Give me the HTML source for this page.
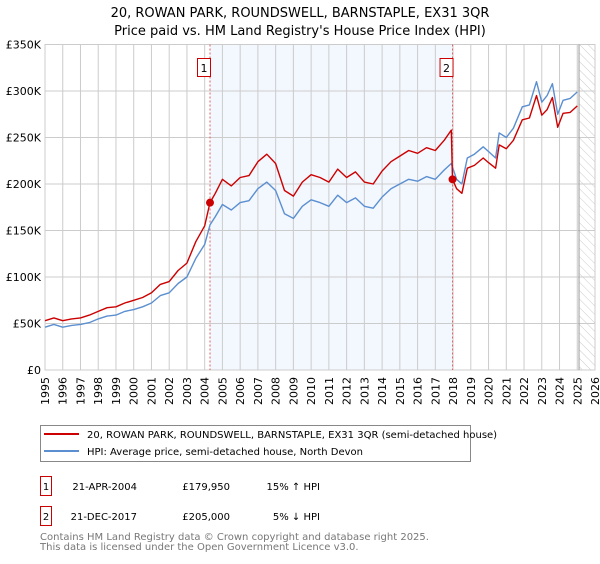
<!DOCTYPE html>
<html><head><meta charset="utf-8"><style>
body{margin:0;background:#fff;font-family:"DejaVu Sans","Liberation Sans",sans-serif;}
svg text{font-family:"DejaVu Sans","Liberation Sans",sans-serif;}
</style></head><body>
<svg id="chart" width="600" height="560" xmlns="http://www.w3.org/2000/svg">
<defs><pattern id="hatch" width="6" height="6" patternUnits="userSpaceOnUse" patternTransform="rotate(-45)"><line x1="0" y1="0" x2="0" y2="6" stroke="#ccc" stroke-width="1"/></pattern></defs>
<text x="300" y="17" text-anchor="middle" font-size="13" fill="#000">20, ROWAN PARK, ROUNDSWELL, BARNSTAPLE, EX31 3QR</text>
<text x="300" y="35" text-anchor="middle" font-size="13" fill="#000">Price paid vs. HM Land Registry's House Price Index (HPI)</text>
<g id="plot"></g>
<g>
<rect x="40.5" y="425.5" width="430" height="36" fill="#fff" stroke="#888"/>
<line x1="44" y1="434" x2="79" y2="434" stroke="#cc0000" stroke-width="2"/>
<text x="87" y="438" font-size="10">20, ROWAN PARK, ROUNDSWELL, BARNSTAPLE, EX31 3QR (semi-detached house)</text>
<line x1="44" y1="451" x2="79" y2="451" stroke="#5b8fd0" stroke-width="2"/>
<text x="87" y="455" font-size="10">HPI: Average price, semi-detached house, North Devon</text>
</g>
<g font-size="10">
<rect x="40.5" y="476.5" width="11" height="19" fill="#fff" stroke="#c00"/>
<text x="46" y="490" text-anchor="middle">1</text>
<text x="137" y="490" text-anchor="end">21-APR-2004</text>
<text x="230" y="490" text-anchor="end">£179,950</text>
<text x="320" y="490" text-anchor="end">15% ↑ HPI</text>
<rect x="40.5" y="506.5" width="11" height="19" fill="#fff" stroke="#c00"/>
<text x="46" y="520" text-anchor="middle">2</text>
<text x="137" y="520" text-anchor="end">21-DEC-2017</text>
<text x="230" y="520" text-anchor="end">£205,000</text>
<text x="320" y="520" text-anchor="end">5% ↓ HPI</text>
</g>
<text x="40" y="540" font-size="10" fill="#777">Contains HM Land Registry data © Crown copyright and database right 2025.</text>
<text x="40" y="550" font-size="10" fill="#777">This data is licensed under the Open Government Licence v3.0.</text>
</svg>
<script>
const hpiYears=[1995,1995.5,1996,1996.5,1997,1997.5,1998,1998.5,1999,1999.5,2000,2000.5,2001,2001.5,2002,2002.5,2003,2003.5,2004,2004.3,2004.6,2005,2005.5,2006,2006.5,2007,2007.5,2008,2008.5,2009,2009.5,2010,2010.5,2011,2011.5,2012,2012.5,2013,2013.5,2014,2014.5,2015,2015.5,2016,2016.5,2017,2017.5,2017.9,2018.2,2018.5,2018.8,2019.2,2019.7,2020,2020.4,2020.6,2021,2021.4,2021.9,2022.3,2022.7,2023,2023.3,2023.6,2023.9,2024.2,2024.6,2025];
const hpiValues=[46,49,46,48,49,51,55,58,59,63,65,68,72,80,83,93,100,120,135,156,165,178,172,180,182,195,202,193,168,163,176,183,180,176,188,180,185,176,174,186,195,200,205,203,208,205,215,222,205,200,228,232,240,235,228,255,250,260,283,285,310,288,295,308,275,290,292,299];
const priceYears=[1995,1995.5,1996,1996.5,1997,1997.5,1998,1998.5,1999,1999.5,2000,2000.5,2001,2001.5,2002,2002.5,2003,2003.5,2004,2004.3,2004.6,2005,2005.5,2006,2006.5,2007,2007.5,2008,2008.5,2009,2009.5,2010,2010.5,2011,2011.5,2012,2012.5,2013,2013.5,2014,2014.5,2015,2015.5,2016,2016.5,2017,2017.5,2017.9,2017.97,2018.2,2018.5,2018.8,2019.2,2019.7,2020,2020.4,2020.6,2021,2021.4,2021.9,2022.3,2022.7,2023,2023.3,2023.6,2023.9,2024.2,2024.6,2025];
const priceValues=[53,56,53,55,56,59,63,67,68,72,75,78,83,92,95,107,115,138,155,180,190,205,198,207,209,224,232,222,193,187,202,210,207,202,216,207,213,202,200,214,224,230,236,233,239,236,247,258,205,195,190,217,220,228,223,217,242,238,247,269,271,295,274,280,293,261,276,277,284];
const saleYears=[2004.3,2017.97];
const saleValues=[179.95,205];
const saleLabels=["1","2"];
const yTicks=[0,50,100,150,200,250,300,350];
const yTickLabels=["£0","£50K","£100K","£150K","£200K","£250K","£300K","£350K"];
const xTicks=[1995,1996,1997,1998,1999,2000,2001,2002,2003,2004,2005,2006,2007,2008,2009,2010,2011,2012,2013,2014,2015,2016,2017,2018,2019,2020,2021,2022,2023,2024,2025,2026];

const NS="http://www.w3.org/2000/svg";
const L=45,R=595,T=44.5,B=370;
const xS=y=>L+(y-1995)/(2026-1995)*(R-L);
const yS=v=>B-v/350*(B-T);
const g=document.getElementById('plot');
function mk(tag,at,parent){const e=document.createElementNS(NS,tag);for(const k in at)e.setAttribute(k,at[k]);(parent||g).appendChild(e);return e;}
let e;
e=mk('rect',{x:xS(saleYears[0]),y:T,width:xS(saleYears[1])-xS(saleYears[0]),height:B-T,fill:'#eef3fd',opacity:0.7});


e=mk('rect',{x:xS(2025.1),y:T,width:R-xS(2025.1),height:B-T,fill:'url(#hatch)'});


yTicks.forEach((v,i)=>{
 e=mk('line',{x1:L,x2:R,y1:yS(v),y2:yS(v),stroke:'#ccc','stroke-width':1});
 
 
 e=mk('text',{x:L-4,y:yS(v)+4,'text-anchor':'end','font-size':11,fill:'#000'});
 e.textContent=yTickLabels[i];
 
 
});
xTicks.forEach(y=>{
 e=mk('line',{x1:xS(y),x2:xS(y),y1:T,y2:B,stroke:'#ccc','stroke-width':1});
 
 
 const tx=xS(y)+4, ty=377;
 e=mk('text',{x:tx,y:ty,'text-anchor':'end','font-size':11,fill:'#000',transform:'rotate(-90 '+tx+' '+ty+')'});
 e.textContent=y;
 
 
});
e=mk('rect',{x:L,y:T,width:R-L,height:B-T,fill:'none',stroke:'#ccc'});


e=mk('line',{x1:xS(2025.1),x2:xS(2025.1),y1:T,y2:B,stroke:'#999','stroke-width':1});


saleYears.forEach((y,i)=>{
 e=mk('line',{x1:xS(y),x2:xS(y),y1:T,y2:B,stroke:'#e06060','stroke-width':1,'stroke-dasharray':'2,2'});
 
 
 e=mk('rect',{x:xS(y)-12.5,y:58.5,width:13,height:18,fill:'#fff',stroke:'#c00'});
 
 
 e=mk('text',{x:xS(y)-6,y:72,'text-anchor':'middle','font-size':11});
 e.textContent=saleLabels[i];
 
 
});
const pts=(xs,vs)=>xs.map((x,i)=>xS(x).toFixed(1)+','+yS(vs[i]).toFixed(1)).join(' ');
e=mk('polyline',{points:pts(hpiYears,hpiValues),fill:'none',stroke:'#5b8fd0','stroke-width':1.4,'stroke-linejoin':'round'});


e=mk('polyline',{points:pts(priceYears,priceValues),fill:'none',stroke:'#cc0000','stroke-width':1.4,'stroke-linejoin':'round'});


saleYears.forEach((y,i)=>{
 e=mk('circle',{cx:xS(y),cy:yS(saleValues[i]),r:4,fill:'#cc0000'});
 
 
});
</script>
</body></html>
